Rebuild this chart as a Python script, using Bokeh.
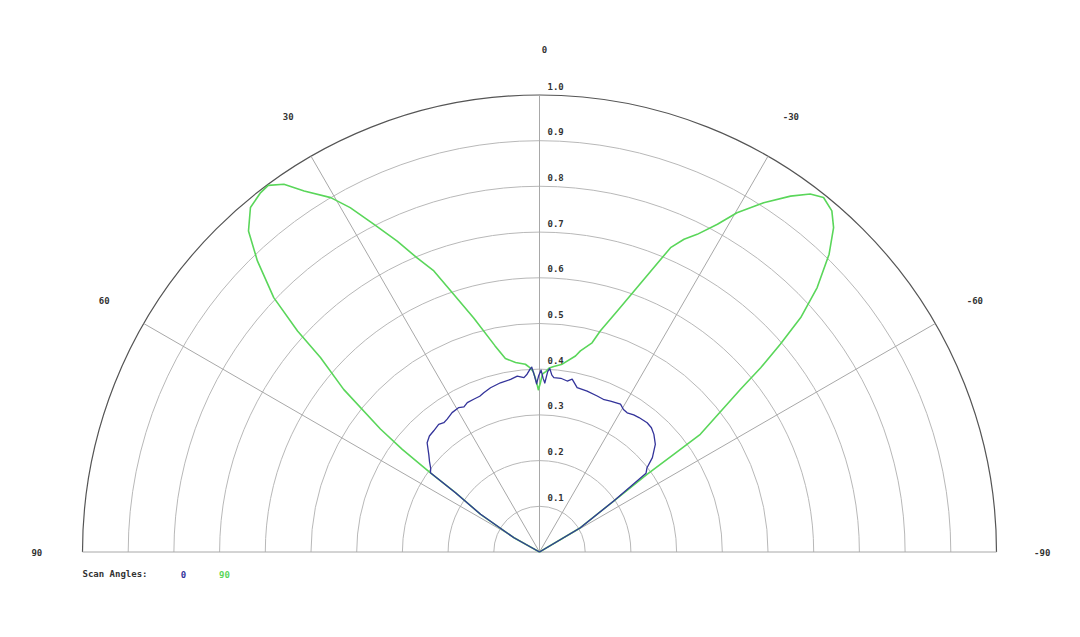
import numpy as np
from bokeh.plotting import figure
from bokeh.models import Range1d
from bokeh.core.properties import value
from bokeh.embed import file_html
from bokeh.resources import INLINE

# ---------------- data (angle in degrees, positive = left; r = relative value) -------------
ring_values = [0.1, 0.2, 0.3, 0.4, 0.5, 0.6, 0.7, 0.8, 0.9, 1.0]
ring_labels = ["0.1", "0.2", "0.3", "0.4", "0.5", "0.6", "0.7", "0.8", "0.9", "1.0"]
spoke_angles = [90, 60, 30, 0, -30, -60, -90]
spoke_labels = ["90", "60", "30", "0", "-30", "-60", "-90"]

series_names = ["0", "90"]
series_colors = ["#33339a", "#5ad65a"]

# scan angle 90 (green)
green_angle = [90, 60.9, 57.4, 54.8, 54.0, 53.2, 52.3, 50.3, 48.4, 47.6, 46.25, 44.1, 42.2,
               40.0, 37.9, 36.5, 34.8, 33.1, 30.5, 28.8, 26.8, 24.6, 22.6, 20.6, 18.4, 15.7,
               12.2, 10.0, 7.2, 4.3, 3.0, 2.0, 1.0, 0.4, -0.3, -1.0, -2.0, -3.0, -4.4, -6.9,
               -10.4, -11.5, -14.1, -15.4, -17.9, -19.9, -21.9, -23.3, -24.8, -26.4, -28.5,
               -30.2, -32.7, -35.2, -37.1, -38.7, -40.6, -42.2, -44.2, -46.4, -48.1, -49.2,
               -50.2, -51.0, -53.8, -54.0, -54.2, -55.5, -59.3, -90]
green_r = [0.0, 0.064, 0.153, 0.225, 0.295, 0.375, 0.44, 0.557, 0.641, 0.717, 0.805, 0.887, 0.948,
           0.984, 0.995, 0.998, 0.98, 0.943, 0.900, 0.860, 0.803, 0.748, 0.697, 0.657, 0.594, 0.532,
           0.462, 0.430, 0.418, 0.412, 0.404, 0.395, 0.372, 0.355, 0.370, 0.390, 0.395, 0.403, 0.407, 0.414,
           0.436, 0.449, 0.472, 0.502, 0.554, 0.607, 0.671, 0.725, 0.754, 0.776, 0.816,
           0.859, 0.908, 0.953, 0.982, 0.994, 0.983, 0.958, 0.909, 0.839, 0.768, 0.696,
           0.630, 0.566, 0.436, 0.364, 0.290, 0.197, 0.104, 0.0]

# scan angle 0 (blue)
blue_angle = [90, 60.9, 57.4, 54.8, 54.0, 52.5, 50.5, 48.6, 45.8, 43.5, 41.1, 38.3, 36.5, 34.8,
              32.1, 29.2, 27.5, 25.8, 23.3, 21.0, 19.3, 16.6, 13.0, 9.5, 7.2, 5.1, 4.0, 3.0, 2.4,
              1.6, 1.0, 0.3, -0.5, -1.2, -1.8, -2.6, -3.2, -4.0, -4.7, -7.0, -9.2, -10.7, -12.9,
              -16.5, -20.3, -23.0, -25.2, -28.7, -30.5, -32.2, -34.5, -36.5, -39.8, -42.0, -44.2,
              -47.1, -50.1, -51.9, -53.5, -55.5, -59.3, -90]
blue_r = [0.0, 0.064, 0.153, 0.225, 0.295, 0.300, 0.312, 0.323, 0.343, 0.350, 0.352, 0.356, 0.352, 0.354,
          0.360, 0.362, 0.358, 0.363, 0.364, 0.365, 0.369, 0.375, 0.380, 0.383, 0.388, 0.383, 0.390, 0.400, 0.405,
          0.385, 0.368, 0.385, 0.398, 0.380, 0.370, 0.395, 0.402, 0.388, 0.383, 0.383, 0.379, 0.385, 0.369,
          0.367, 0.364, 0.362, 0.365, 0.369, 0.362, 0.360, 0.364, 0.366, 0.368, 0.366, 0.359,
          0.346, 0.322, 0.299, 0.290, 0.197, 0.104, 0.0]

# ---------------- layout ---------------------------------------------------------------
W, H = 1080, 637
CX, CY, R = 539.0, 551.5, 457.0   # polar origin in canvas pixels, pixels per unit radius

p = figure(width=W, height=H,
           x_range=Range1d(-CX / R, (W - CX) / R),
           y_range=Range1d(-(H - CY) / R, CY / R),
           output_backend="svg", toolbar_location=None,
           x_axis_location=None, y_axis_location=None,
           min_border=0, outline_line_color=None,
           background_fill_color="white", border_fill_color="white")
p.grid.visible = False


def to_xy(angles, radii):
    a = np.radians(np.asarray(angles, dtype=float))
    r = np.asarray(radii, dtype=float)
    return -r * np.sin(a), r * np.cos(a)


TXT = dict(text_font=value("DejaVu Sans Mono"), text_font_size="9px", text_font_style="bold")

# rings
inner = ring_values[:-1]
p.arc(x=[0] * len(inner), y=[0] * len(inner), radius=inner, start_angle=0, end_angle=np.pi,
      line_color="#b8b8b8", line_width=1)
p.arc(x=[0], y=[0], radius=[ring_values[-1]], start_angle=0, end_angle=np.pi,
      line_color="#555555", line_width=1.2)

# spokes
sx, sy = to_xy(spoke_angles, [ring_values[-1]] * len(spoke_angles))
p.segment(x0=[0] * len(sx), y0=[0] * len(sy), x1=sx, y1=sy, line_color="#a8a8a8", line_width=1)

# ring labels
p.text(x=[0] * len(ring_values), y=ring_values, text=ring_labels,
       x_offset=8, y_offset=-9, text_align="left", text_baseline="middle",
       text_color="#333333", **TXT)

# spoke labels
lx, ly = to_xy(spoke_angles, [1.1] * len(spoke_angles))
xoff = [5 if s == "0" else 0 for s in spoke_labels]
p.text(x=lx, y=ly, text=spoke_labels, x_offset=xoff, text_align="center", text_baseline="middle",
       text_color="#333333", **TXT)

# curves
gx, gy = to_xy(green_angle, green_r)
p.line(gx, gy, line_color=series_colors[1], line_width=1.6, line_join="round")
bx, by = to_xy(blue_angle, blue_r)
p.line(bx, by, line_color=series_colors[0], line_width=1.3, line_join="round")

# legend
ly0 = -22.0 / R
p.text(x=[-457 / R], y=[ly0], text=["Scan Angles:"], text_align="left", text_baseline="middle",
       text_color="#333333", **TXT)
p.text(x=[-356 / R, -315 / R], y=[ly0, ly0], text=series_names, text_align="center",
       text_baseline="middle", text_color=series_colors, **TXT)

open("out.html", "w").write(file_html(p, INLINE))
